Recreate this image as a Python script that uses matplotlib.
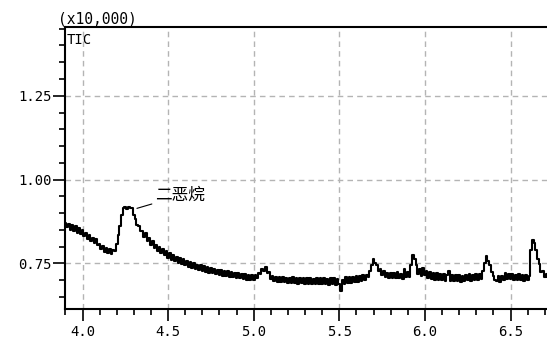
import numpy as np
import matplotlib
matplotlib.use("Agg")
import matplotlib.pyplot as plt
from matplotlib.ticker import MultipleLocator

# retention time start and step (min)
t_start = 3.90
t_step = 0.01

# TIC intensity (x10,000), sampled every 0.01 min from 3.90
tic = [
    # 3.90 - 3.99
    0.872, 0.858, 0.868, 0.850, 0.864, 0.846, 0.861, 0.842, 0.856, 0.838,
    # 4.00 - 4.09
    0.850, 0.832, 0.840, 0.822, 0.834, 0.816, 0.826, 0.812, 0.822, 0.804,
    # 4.10 - 4.19
    0.808, 0.792, 0.802, 0.784, 0.796, 0.780, 0.792, 0.779, 0.791, 0.786,
    # 4.20 - 4.29
    0.808, 0.835, 0.862, 0.895, 0.915, 0.918, 0.912, 0.917, 0.914, 0.915,
    # 4.30 - 4.39
    0.895, 0.882, 0.864, 0.862, 0.846, 0.848, 0.828, 0.840, 0.816, 0.826,
    # 4.40 - 4.49
    0.806, 0.818, 0.796, 0.806, 0.786, 0.798, 0.780, 0.792, 0.776, 0.786,
    # 4.50 - 4.59
    0.766, 0.780, 0.760, 0.774, 0.756, 0.770, 0.752, 0.766, 0.748, 0.762,
    # 4.60 - 4.69
    0.744, 0.758, 0.740, 0.754, 0.736, 0.750, 0.733, 0.746, 0.730, 0.744,
    # 4.70 - 4.79
    0.728, 0.741, 0.724, 0.738, 0.721, 0.735, 0.720, 0.734, 0.718, 0.731,
    # 4.80 - 4.89
    0.716, 0.730, 0.713, 0.728, 0.712, 0.726, 0.710, 0.724, 0.709, 0.722,
    # 4.90 - 4.99
    0.707, 0.722, 0.705, 0.719, 0.704, 0.718, 0.702, 0.716, 0.701, 0.715,
    # 5.00 - 5.09
    0.702, 0.716, 0.706, 0.722, 0.718, 0.732, 0.728, 0.738, 0.722, 0.724,
    # 5.10 - 5.19
    0.704, 0.712, 0.698, 0.710, 0.696, 0.709, 0.695, 0.708, 0.694, 0.707,
    # 5.20 - 5.29
    0.693, 0.706, 0.692, 0.708, 0.691, 0.705, 0.690, 0.707, 0.692, 0.706,
    # 5.30 - 5.39
    0.690, 0.705, 0.689, 0.707, 0.690, 0.704, 0.688, 0.706, 0.689, 0.705,
    # 5.40 - 5.49
    0.688, 0.706, 0.689, 0.704, 0.687, 0.707, 0.688, 0.705, 0.686, 0.704,
    # 5.50 - 5.59
    0.690, 0.668, 0.702, 0.690, 0.708, 0.692, 0.709, 0.693, 0.710, 0.694,
    # 5.60 - 5.69
    0.711, 0.696, 0.712, 0.698, 0.714, 0.702, 0.716, 0.708, 0.726, 0.745,
    # 5.70 - 5.79
    0.764, 0.750, 0.746, 0.728, 0.734, 0.714, 0.726, 0.708, 0.722, 0.706,
    # 5.80 - 5.89
    0.722, 0.705, 0.720, 0.706, 0.724, 0.705, 0.719, 0.704, 0.734, 0.708,
    # 5.90 - 5.99
    0.724, 0.708, 0.745, 0.774, 0.762, 0.744, 0.718, 0.732, 0.712, 0.737,
    # 6.00 - 6.09
    0.714, 0.728, 0.706, 0.724, 0.703, 0.722, 0.702, 0.720, 0.700, 0.718,
    # 6.10 - 6.19
    0.700, 0.717, 0.698, 0.716, 0.726, 0.699, 0.716, 0.697, 0.715, 0.698,
    # 6.20 - 6.29
    0.714, 0.696, 0.713, 0.698, 0.716, 0.700, 0.718, 0.699, 0.716, 0.700,
    # 6.30 - 6.39
    0.718, 0.701, 0.719, 0.704, 0.726, 0.752, 0.771, 0.756, 0.744, 0.724,
    # 6.40 - 6.49
    0.712, 0.700, 0.698, 0.712, 0.696, 0.712, 0.702, 0.720, 0.704, 0.718,
    # 6.50 - 6.59
    0.703, 0.719, 0.702, 0.716, 0.700, 0.717, 0.701, 0.716, 0.699, 0.715,
    # 6.60 - 6.69
    0.700, 0.712, 0.790, 0.820, 0.812, 0.790, 0.762, 0.748, 0.724, 0.726,
    # 6.70 - 6.72
    0.710, 0.718, 0.708,
]

peak_label = "二恶烷"
peak_xy = (4.31, 0.913)
label_xy = (4.425, 0.952)

x_ticks = [4.0, 4.5, 5.0, 5.5, 6.0, 6.5]
x_ticklabels = ["4.0", "4.5", "5.0", "5.5", "6.0", "6.5"]
y_ticks = [0.75, 1.00, 1.25]
y_ticklabels = ["0.75", "1.00", "1.25"]

rt = t_start + t_step * np.arange(len(tic))

fig = plt.figure(figsize=(5.47, 3.41), dpi=100)
ax = fig.add_axes([0.118, 0.0938, 0.882, 0.827])

ax.plot(rt, tic, color="black", lw=1.5, drawstyle="steps-mid")

ax.set_xlim(3.895, 6.713)
ax.set_ylim(0.614, 1.455)

ax.xaxis.set_major_locator(plt.FixedLocator(x_ticks))
ax.xaxis.set_minor_locator(MultipleLocator(0.1))
ax.yaxis.set_major_locator(plt.FixedLocator(y_ticks))
ax.yaxis.set_minor_locator(MultipleLocator(0.05))
ax.set_xticklabels(x_ticklabels)
ax.set_yticklabels(y_ticklabels)

mono = "DejaVu Sans Mono"
for lab in ax.get_xticklabels() + ax.get_yticklabels():
    lab.set_fontfamily(mono)
    lab.set_fontsize(10)

ax.tick_params(axis="both", which="major", direction="out", length=8.5, width=1.2, color="black")
ax.tick_params(axis="both", which="minor", direction="out", length=4.3, width=1.2, color="black")
ax.tick_params(axis="y", which="major", pad=0.5)
ax.tick_params(axis="x", which="major", pad=3)

ax.grid(True, which="major", color="#b4b4b4", linestyle=(0, (4, 3)), lw=1.0)
ax.set_axisbelow(True)

for s in ["left", "bottom", "top"]:
    ax.spines[s].set_linewidth(1.5)
    ax.spines[s].set_color("black")
ax.spines["right"].set_visible(False)

fig.text(58 / 547, 1 - 19 / 341, "(x10,000)", family=mono, fontsize=10.5,
         ha="left", va="center")
ax.text(0.004, 0.98, "TIC", transform=ax.transAxes, family=mono, fontsize=10,
        ha="left", va="top")

ax.annotate(peak_label, xy=peak_xy, xytext=label_xy,
            family=["Noto Sans CJK SC", "DejaVu Sans"], fontsize=12,
            ha="left", va="center",
            arrowprops=dict(arrowstyle="-", color="black", lw=0.8,
                            shrinkA=0.5, shrinkB=1))

fig.savefig("out.png", dpi=100)
